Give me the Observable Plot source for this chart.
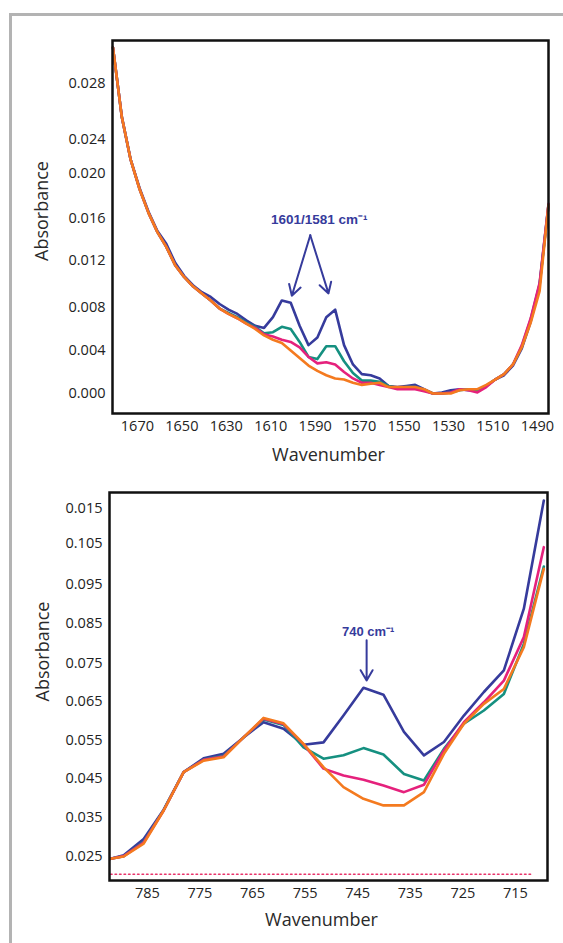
<!DOCTYPE html>
<html><head><meta charset="utf-8">
<script src="https://cdn.jsdelivr.net/npm/d3@7"></script>
<script src="https://cdn.jsdelivr.net/npm/@observablehq/plot@0.6"></script>
<style>
html,body{margin:0;padding:0;background:#fff;}
#wrap{position:relative;width:563px;height:943px;overflow:hidden;}
#border{position:absolute;left:9px;top:13px;width:700px;height:1100px;border-left:3px solid #b3b3b3;border-top:3px solid #b3b3b3;}
#top,#bottom{position:absolute;left:0;}
#top{top:0}
#bottom{top:470px}
</style></head>
<body><div id="wrap"><div id="border"></div><div id="top"></div><div id="bottom"></div></div>
<script>
// ---------- Top panel (1680–1485 cm-1) ----------
const wnTop = [1681,1677,1673,1669,1665,1661,1657,1653,1649,1645,1641,1637,1633,1629,1625,1621,1617,1613,1609,1605,1601,1597,1593,1589,1585,1581,1577,1573,1569,1565,1561,1557,1553,1549,1545,1541,1537,1533,1529,1525,1521,1517,1513,1509,1505,1501,1497,1493,1489,1485];
const topBlue    = [0.0306,0.0256,0.0216,0.0187,0.0166,0.0148,0.0136,0.0118,0.0107,0.0099,0.0093,0.0089,0.0083,0.0078,0.0074,0.0068,0.0063,0.0061,0.0071,0.0086,0.0084,0.0063,0.0045,0.0052,0.0071,0.0078,0.0045,0.0027,0.0018,0.0017,0.0014,0.0007,0.0006,0.0007,0.0008,0.0004,0.0000,0.0001,0.0003,0.0004,0.0003,0.0003,0.0007,0.0013,0.0017,0.0026,0.0042,0.0067,0.0099,0.0172];
const topTeal    = [0.0306,0.0256,0.0216,0.0186,0.0165,0.0147,0.0133,0.0116,0.0106,0.0098,0.0092,0.0086,0.0079,0.0075,0.0071,0.0066,0.0062,0.0056,0.0057,0.0062,0.0060,0.0048,0.0034,0.0032,0.0044,0.0044,0.0030,0.0019,0.0012,0.0012,0.0011,0.0007,0.0005,0.0006,0.0006,0.0003,0.0000,0.0000,0.0001,0.0003,0.0004,0.0003,0.0007,0.0013,0.0018,0.0027,0.0044,0.0069,0.0100,0.0172];
const topMagenta = [0.0306,0.0256,0.0216,0.0186,0.0165,0.0147,0.0133,0.0116,0.0106,0.0098,0.0092,0.0086,0.0079,0.0074,0.0070,0.0065,0.0061,0.0055,0.0053,0.0050,0.0048,0.0043,0.0034,0.0028,0.0029,0.0027,0.0020,0.0014,0.0010,0.0010,0.0008,0.0006,0.0004,0.0004,0.0004,0.0002,0.0000,0.0000,0.0001,0.0004,0.0003,0.0001,0.0006,0.0013,0.0018,0.0027,0.0045,0.0070,0.0101,0.0173];
const topOrange  = [0.0306,0.0256,0.0216,0.0186,0.0165,0.0147,0.0133,0.0116,0.0106,0.0098,0.0092,0.0086,0.0079,0.0074,0.0070,0.0065,0.0060,0.0054,0.0050,0.0047,0.0040,0.0033,0.0026,0.0021,0.0017,0.0014,0.0013,0.0010,0.0008,0.0009,0.0010,0.0006,0.0006,0.0006,0.0006,0.0004,0.0000,0.0000,0.0000,0.0003,0.0004,0.0004,0.0008,0.0013,0.0018,0.0027,0.0043,0.0066,0.0094,0.0172];
const topXTicks = [1670,1650,1630,1610,1590,1570,1550,1530,1510,1490];
const topYTicks = [0.000,0.004,0.008,0.012,0.016,0.020,0.024,0.028];
const topYTickLabels = ["0.000","0.004","0.008","0.012","0.016","0.020","0.024","0.028"];
// the source's y tick labels are unevenly spaced: absorbance -> axis-position warp (scale config)
const topYStops = [-0.00186,0.000,0.004,0.008,0.012,0.016,0.020,0.024,0.028,0.0311];
const topYStopPos = [0,20,63,106,153,195,240,274,330,373];
const topAnnText = "1601/1581 cm⁻¹";
const topAnnPos = [1588.2, 0.0159];
const topArrowFromX = [1592.2, 1592.2];
const topArrowFromY = [0.0144, 0.0144];
const topArrowToX = [1600.5, 1584.0];
const topArrowToY = [0.0090, 0.0092];

// ---------- Bottom panel (790–710 cm-1) ----------
const wnBottom = [792.0,789.5,785.7,781.9,778.1,774.3,770.5,766.7,762.9,759.1,755.3,751.5,747.7,743.9,740.1,736.2,732.4,728.6,724.8,721.0,717.2,713.4,709.6];
const botBlue    = [0.0244,0.0253,0.0295,0.0370,0.0467,0.0503,0.0515,0.0558,0.0597,0.0580,0.0539,0.0545,0.0614,0.0686,0.0668,0.0572,0.0511,0.0546,0.0614,0.0675,0.0732,0.0888,0.1173];
const botTeal    = [0.0244,0.0251,0.0288,0.0369,0.0467,0.0500,0.0510,0.0558,0.0604,0.0590,0.0532,0.0502,0.0511,0.0530,0.0513,0.0462,0.0445,0.0528,0.0593,0.0627,0.0670,0.0799,0.0994];
const botMagenta = [0.0244,0.0251,0.0286,0.0368,0.0467,0.0499,0.0508,0.0558,0.0606,0.0592,0.0540,0.0476,0.0458,0.0447,0.0432,0.0415,0.0434,0.0524,0.0597,0.0648,0.0705,0.0816,0.1041];
const botOrange  = [0.0244,0.0250,0.0283,0.0368,0.0467,0.0497,0.0506,0.0558,0.0608,0.0594,0.0541,0.0480,0.0428,0.0398,0.0381,0.0381,0.0415,0.0515,0.0593,0.0644,0.0683,0.0791,0.0988];
const baselineWn = [792.0, 711.8];
const baselineVal = [0.0204, 0.0204];
const botXTicks = [785,775,765,755,745,735,725,715];
const botYTicks = [0.025,0.035,0.045,0.055,0.065,0.075,0.085,0.095,0.105,0.115];
const botYTickLabels = ["0.025","0.035","0.045","0.055","0.065","0.075","0.085","0.095","0.105","0.015"];
const botYStops = [0.0188,0.025,0.035,0.045,0.055,0.065,0.075,0.085,0.095,0.105,0.115,0.1196];
const botYStopPos = [0,24,63,102,140,179,217,257,296,337,372,388];
const botAnnText = "740 cm⁻¹";
const botAnnPos = [743.0, 0.0828];
const botArrowFromX = [743.3], botArrowFromY = [0.0808];
const botArrowToX = [743.3], botArrowToY = [0.0705];

const seriesNames = ["blue","teal","magenta","orange"];
const colors = {blue:"#363b9c", teal:"#159080", magenta:"#e5217c", orange:"#f47a1f"};

const warpTop = d3.scaleLinear().domain(topYStops).range(topYStopPos);
const warpBot = d3.scaleLinear().domain(botYStops).range(botYStopPos);

function table(wn, arrs) {
  const rows = [];
  seriesNames.forEach((s, k) => wn.forEach((w, i) => rows.push({s, wn: w, a: arrs[k][i]})));
  return rows;
}
const topRows = table(wnTop, [topBlue, topTeal, topMagenta, topOrange]);
const botRows = table(wnBottom, [botBlue, botTeal, botMagenta, botOrange]);

const baseStyle = {background: "transparent", fontFamily: "'Open Sans', Lato, sans-serif", fontSize: "14.5px", color: "#222"};
const navy = "#363b9c";
const annFont = "'Liberation Sans', Arial, sans-serif";
const labelFill = "#2a2a2a";

// ---- top chart ----
const topH = 470;
const topFrame = {l:112, r:548, t:40, b:413};
const topChart = Plot.plot({
  width: 563, height: topH,
  marginLeft: topFrame.l, marginRight: 563 - topFrame.r, marginTop: topFrame.t, marginBottom: topH - topFrame.b,
  style: baseStyle,
  x: {domain: [1681.2, 1485], ticks: topXTicks, tickFormat: d => String(d), tickSize: 0, tickPadding: 7, label: null},
  y: {domain: [0, topYStopPos[topYStopPos.length - 1]], ticks: topYTicks.map(warpTop), tickFormat: (d, i) => topYTickLabels[i], tickSize: 0, tickPadding: 7, label: null},
  marks: [
    ...seriesNames.map(s => Plot.line(topRows.filter(r => r.s === s), {x: "wn", y: r => warpTop(r.a), stroke: colors[s], strokeWidth: 2.6, strokeLinejoin: "round"})),
    Plot.arrow([0, 1], {x1: i => topArrowFromX[i], y1: i => warpTop(topArrowFromY[i]), x2: i => topArrowToX[i], y2: i => warpTop(topArrowToY[i]), stroke: navy, strokeWidth: 2, headLength: 9}),
    Plot.text([topAnnText], {x: () => topAnnPos[0], y: () => warpTop(topAnnPos[1]), text: d => d, fill: navy, fontWeight: "bold", fontSize: 13.5, fontFamily: annFont}),
    Plot.frame({stroke: "#111", strokeWidth: 2.5}),
    Plot.text(["Absorbance"], {frameAnchor: "left", textAnchor: "middle", lineAnchor: "middle", dx: -70, dy: -16, rotate: -90, text: d => d, fontSize: 18, fill: labelFill}),
    Plot.text(["Wavenumber"], {frameAnchor: "bottom", textAnchor: "middle", lineAnchor: "middle", dy: 42, dx: -2, text: d => d, fontSize: 18, fill: labelFill})
  ]
});
document.getElementById("top").appendChild(topChart);

// ---- bottom chart ----
const botH = 473, off = 470;
const botFrame = {l:109, r:547, t:492 - off, b:880 - off};
const botChart = Plot.plot({
  width: 563, height: botH,
  marginLeft: botFrame.l, marginRight: 563 - botFrame.r, marginTop: botFrame.t, marginBottom: botH - botFrame.b,
  style: baseStyle,
  x: {domain: [792.2, 708.9], ticks: botXTicks, tickFormat: d => String(d), tickSize: 0, tickPadding: 7, label: null},
  y: {domain: [0, botYStopPos[botYStopPos.length - 1]], ticks: botYTicks.map(warpBot), tickFormat: (d, i) => botYTickLabels[i], tickSize: 0, tickPadding: 7, label: null},
  marks: [
    Plot.line(baselineWn.map((w, i) => ({wn: w, a: baselineVal[i]})), {x: "wn", y: r => warpBot(r.a), stroke: "#e8336a", strokeWidth: 1.6, strokeDasharray: "1.5,3"}),
    ...seriesNames.map(s => Plot.line(botRows.filter(r => r.s === s), {x: "wn", y: r => warpBot(r.a), stroke: colors[s], strokeWidth: 2.6, strokeLinejoin: "round"})),
    Plot.arrow([0], {x1: i => botArrowFromX[i], y1: i => warpBot(botArrowFromY[i]), x2: i => botArrowToX[i], y2: i => warpBot(botArrowToY[i]), stroke: navy, strokeWidth: 2, headLength: 9}),
    Plot.text([botAnnText], {x: () => botAnnPos[0], y: () => warpBot(botAnnPos[1]), text: d => d, fill: navy, fontWeight: "bold", fontSize: 13, fontFamily: annFont}),
    Plot.frame({stroke: "#111", strokeWidth: 2.5}),
    Plot.text(["Absorbance"], {frameAnchor: "left", textAnchor: "middle", lineAnchor: "middle", dx: -66, dy: -35, rotate: -90, text: d => d, fontSize: 18, fill: labelFill}),
    Plot.text(["Wavenumber"], {frameAnchor: "bottom", textAnchor: "middle", lineAnchor: "middle", dy: 40, dx: -7, text: d => d, fontSize: 18, fill: labelFill})
  ]
});
document.getElementById("bottom").appendChild(botChart);
</script>
</body></html>
